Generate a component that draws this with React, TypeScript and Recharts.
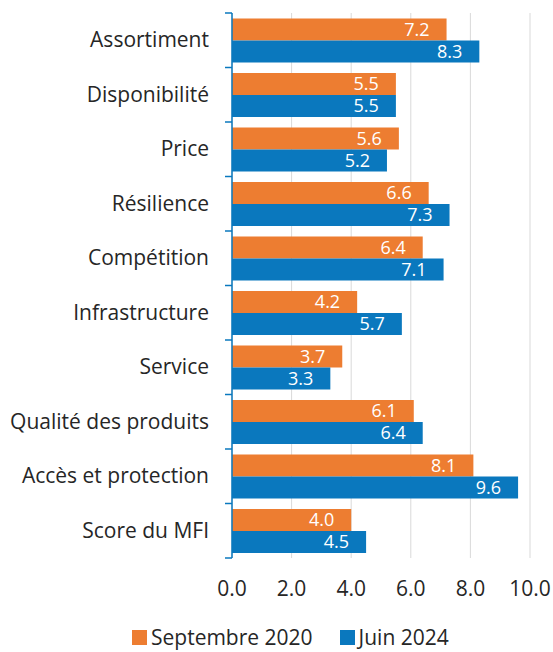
import { Bar, BarChart, CartesianGrid, LabelList, Legend, XAxis, YAxis } from 'recharts';

const categories = [
  'Assortiment',
  'Disponibilité',
  'Price',
  'Résilience',
  'Compétition',
  'Infrastructure',
  'Service',
  'Qualité des produits',
  'Accès et protection',
  'Score du MFI',
];
const sept2020 = [7.2, 5.5, 5.6, 6.6, 6.4, 4.2, 3.7, 6.1, 8.1, 4.0];
const juin2024 = [8.3, 5.5, 5.2, 7.3, 7.1, 5.7, 3.3, 6.4, 9.6, 4.5];
const xTicks = [0, 2, 4, 6, 8, 10];

const ORANGE = '#ED7D31';
const BLUE = '#0A78BE';
const TEXT = '#262626';
const FONT = '"Open Sans", Lato, sans-serif';
const AXIS_X = 232;
const BAND_HALF = 27.25;

const data = categories.map((name, i) => ({ name, s2020: sept2020[i], s2024: juin2024[i] }));

function CategoryTick(props: any) {
  const { x, y, payload, index } = props;
  return (
    <g>
      <line x1={AXIS_X - 7} x2={AXIS_X} y1={y - BAND_HALF} y2={y - BAND_HALF} stroke={BLUE} strokeWidth={1.5} />
      {index === categories.length - 1 && (
        <line x1={AXIS_X - 7} x2={AXIS_X} y1={y + BAND_HALF} y2={y + BAND_HALF} stroke={BLUE} strokeWidth={1.5} />
      )}
      <text x={x} y={y} dy={7} textAnchor="end" fill={TEXT} fontSize={21} fontFamily={FONT}>
        {payload.value}
      </text>
    </g>
  );
}

function ChartLegend() {
  const items = [
    { label: 'Septembre 2020', color: ORANGE },
    { label: 'Juin 2024', color: BLUE },
  ];
  return (
    <div style={{ display: 'flex', justifyContent: 'flex-start', paddingLeft: 132, gap: 27, height: 30, alignItems: 'center', fontFamily: FONT, fontSize: 21, lineHeight: '26px', color: TEXT }}>
      {items.map((it) => (
        <span key={it.label} style={{ display: 'flex', alignItems: 'center' }}>
          <span style={{ display: 'inline-block', width: 15, height: 15, background: it.color, marginRight: 4 }} />
          {it.label}
        </span>
      ))}
    </div>
  );
}

export default function App() {
  return (
    <div style={{ position: 'absolute', left: 0, top: 0, width: 553, height: 652, background: '#fff' }}>
      <BarChart
        width={553}
        height={652}
        data={data}
        layout="vertical"
        margin={{ top: 13, right: 23, left: 0, bottom: 0 }}
        barCategoryGap="10%"
        barGap={0}
      >
        <CartesianGrid horizontal={false} vertical stroke="#D9D9D9" />
        <XAxis
          type="number"
          domain={[0, 10]}
          ticks={xTicks}
          axisLine={false}
          tickLine={false}
          tickMargin={17}
          height={64}
          tickFormatter={(v: number) => v.toFixed(1)}
          tick={{ fill: TEXT, fontSize: 21, fontFamily: FONT }}
        />
        <YAxis
          type="category"
          dataKey="name"
          width={232}
          axisLine={{ stroke: BLUE, strokeWidth: 1.5 }}
          tickLine={false}
          tickSize={0}
          tickMargin={23}
          tick={<CategoryTick />}
          interval={0}
        />
        <Legend verticalAlign="bottom" content={<ChartLegend />} wrapperStyle={{ height: 30, bottom: 0, left: 0, width: 553 }} />
        <Bar dataKey="s2020" name="Septembre 2020" fill={ORANGE} isAnimationActive={false}>
          <LabelList
            dataKey="s2020"
            position="insideRight"
            offset={17}
            fill="#fff"
            fontSize={18}
            fontFamily={FONT}
            formatter={(v: any) => Number(v).toFixed(1)}
          />
        </Bar>
        <Bar dataKey="s2024" name="Juin 2024" fill={BLUE} isAnimationActive={false}>
          <LabelList
            dataKey="s2024"
            position="insideRight"
            offset={17}
            fill="#fff"
            fontSize={18}
            fontFamily={FONT}
            formatter={(v: any) => Number(v).toFixed(1)}
          />
        </Bar>
      </BarChart>
    </div>
  );
}
